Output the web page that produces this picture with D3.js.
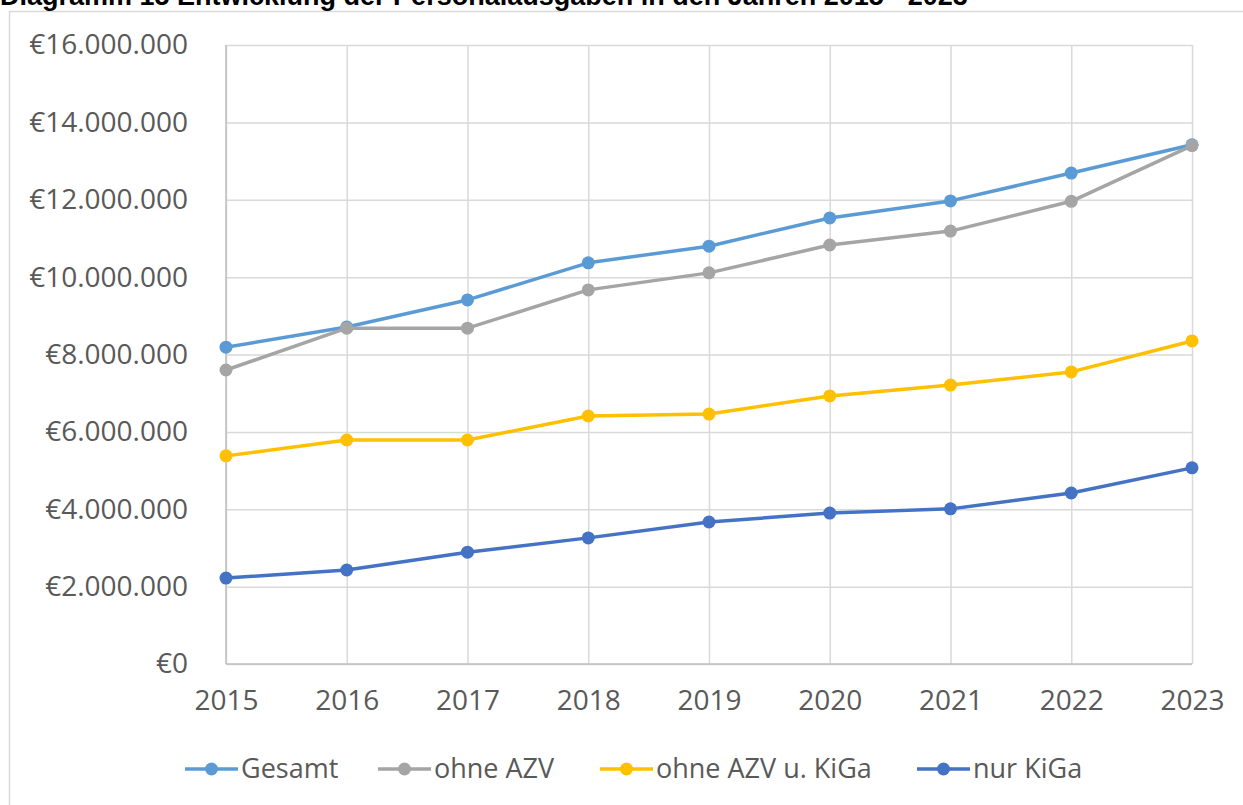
<!DOCTYPE html>
<html>
<head>
<meta charset="utf-8">
<script src="https://cdn.jsdelivr.net/npm/d3@7"></script>
<style>
  html, body { margin: 0; padding: 0; background: #fff; }
  svg { display: block; }
</style>
</head>
<body>
<svg id="chart" width="1243" height="805"></svg>
<script>
const years = ["2015","2016","2017","2018","2019","2020","2021","2022","2023"];
const seriesNames = ["Gesamt", "ohne AZV", "ohne AZV u. KiGa", "nur KiGa"];
const gesamt = [8190000, 8710000, 9410000, 10370000, 10800000, 11530000, 11970000, 12690000, 13420000];
const ohneAZV = [7600000, 8680000, 8680000, 9670000, 10110000, 10830000, 11190000, 11960000, 13400000];
const ohneAZVuKiGa = [5380000, 5790000, 5790000, 6410000, 6460000, 6930000, 7210000, 7550000, 8350000];
const nurKiGa = [2220000, 2430000, 2890000, 3260000, 3670000, 3900000, 4010000, 4420000, 5070000];
const yTicks = [0, 2000000, 4000000, 6000000, 8000000, 10000000, 12000000, 14000000, 16000000];
const colors = ["#5b9bd5", "#a5a5a5", "#ffc000", "#4472c4"];
const title = "Diagramm 15 Entwicklung der Personalausgaben in den Jahren 2015 - 2023";

const data = [gesamt, ohneAZV, ohneAZVuKiGa, nurKiGa];
const svg = d3.select("#chart");
const font = "'Open Sans', sans-serif";

// border
svg.append("rect").attr("x", 9.5).attr("y", 11.5).attr("width", 1300).attr("height", 900)
  .attr("fill", "none").attr("stroke", "#d9d9d9").attr("stroke-width", 1.5);

// title (clipped at top, as in the reference)
svg.append("text").attr("x", 0).attr("y", 5)
  .attr("font-family", "Arial, 'Liberation Sans', sans-serif").attr("font-weight", "bold")
  .attr("font-size", 27).attr("fill", "#000").text(title);

const x = d3.scalePoint().domain(years).range([226, 1192]);
const y = d3.scaleLinear().domain([0, 16000000]).range([664, 45]);

const fmt = v => "€" + d3.format(",")(v).replace(/,/g, ".");

// gridlines + y labels
const gy = svg.append("g").attr("transform", "translate(226,0)")
  .call(d3.axisLeft(y).tickValues(yTicks).tickSize(-966).tickFormat(fmt).tickPadding(38));
gy.select(".domain").remove();
gy.selectAll(".tick line").attr("stroke", "#d9d9d9").attr("stroke-width", 1.5);
gy.selectAll(".tick text").attr("font-family", font).attr("font-size", 28).attr("fill", "#595959");

const gx = svg.append("g").attr("transform", "translate(0,664)")
  .call(d3.axisBottom(x).tickSize(-619).tickPadding(26));
gx.select(".domain").remove();
gx.selectAll(".tick line").attr("stroke", "#d9d9d9").attr("stroke-width", 1.5);
gx.selectAll(".tick text").attr("font-family", font).attr("font-size", 28).attr("fill", "#595959");

// axis lines
svg.append("line").attr("x1", 226).attr("x2", 226).attr("y1", 45).attr("y2", 664)
  .attr("stroke", "#bfbfbf").attr("stroke-width", 1.5);
svg.append("line").attr("x1", 226).attr("x2", 1192).attr("y1", 664).attr("y2", 664)
  .attr("stroke", "#bfbfbf").attr("stroke-width", 1.5);

const line = d3.line().x((d, i) => x(years[i])).y(d => y(d));
data.forEach((s, k) => {
  svg.append("path").datum(s).attr("d", line).attr("fill", "none")
    .attr("stroke", colors[k]).attr("stroke-width", 3.5).attr("stroke-linejoin", "round");
  svg.append("g").selectAll("circle").data(s).join("circle")
    .attr("cx", (d, i) => x(years[i])).attr("cy", d => y(d)).attr("r", 6.5)
    .attr("fill", colors[k]);
});

// legend
const legendX = [185, 378, 600, 917];
const lg = svg.append("g").attr("transform", "translate(0,769)");
seriesNames.forEach((n, k) => {
  const g = lg.append("g").attr("transform", `translate(${legendX[k]},0)`);
  g.append("line").attr("x1", 0).attr("x2", 53).attr("y1", 0).attr("y2", 0)
    .attr("stroke", colors[k]).attr("stroke-width", 3.5);
  g.append("circle").attr("cx", 26.5).attr("cy", 0).attr("r", 6.5).attr("fill", colors[k]);
  g.append("text").attr("x", 56).attr("y", 0).attr("dy", "0.35em")
    .attr("font-family", font).attr("font-size", 27).attr("fill", "#595959").text(n);
});
</script>
</body>
</html>
